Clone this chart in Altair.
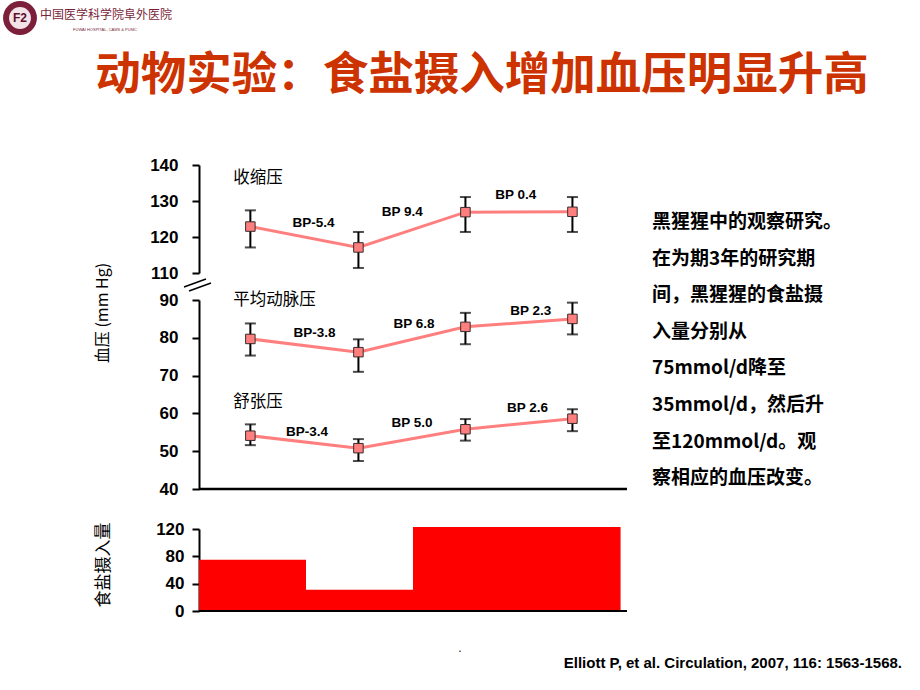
import altair as alt
import pandas as pd

# ---------------- data ----------------
phase_x = [0.48, 1.49, 2.49, 3.49]

sys_mean = [122.9, 117.1, 126.9, 127.0]
sys_hi = [127.4, 121.4, 131.1, 131.1]
sys_lo = [117.1, 111.4, 121.4, 121.4]

map_mean = [79.7, 76.2, 82.9, 85.0]
map_hi = [83.8, 79.6, 86.6, 89.3]
map_lo = [75.3, 71.0, 78.3, 80.9]

dia_mean = [54.1, 50.8, 55.8, 58.6]
dia_hi = [57.1, 53.2, 58.5, 61.1]
dia_lo = [51.6, 47.4, 52.8, 55.3]

sys_labels = ["BP-5.4", "BP 9.4", "BP 0.4"]
sys_lab_x = [1.07, 1.90, 2.96]
sys_lab_y = [123.9, 126.9, 131.7]

map_labels = ["BP-3.8", "BP 6.8", "BP 2.3"]
map_lab_x = [1.08, 2.01, 3.10]
map_lab_y = [81.3, 83.7, 87.1]

dia_labels = ["BP-3.4", "BP 5.0", "BP 2.6"]
dia_lab_x = [1.01, 1.99, 3.07]
dia_lab_y = [55.1, 57.5, 61.4]

series_names = ["收缩压", "平均动脉压", "舒张压"]
series_name_x = [0.32, 0.32, 0.32]
series_name_y = [136.4, 90.0, 63.0]

salt_start = [0, 1, 2]
salt_end = [1, 2, 3.94]
salt_val = [75, 31, 123]

ticks_sys = [110, 120, 130, 140]
ticks_low = [40, 50, 60, 70, 80, 90]
ticks_salt = [0, 40, 80, 120]

title_text = "动物实验：食盐摄入增加血压明显升高"
note_lines = ["黑猩猩中的观察研究。", "在为期3年的研究期", "间，黑猩猩的食盐摄", "入量分别从",
              "75mmol/d降至", "35mmol/d，然后升", "至120mmol/d。观", "察相应的血压改变。"]
citation = "Elliott P, et al. Circulation, 2007, 116: 1563-1568."

# ---------------- scales ----------------
CJK = "Noto Sans CJK SC"
LAT = "Liberation Sans"
LINE_C = "#FF7F7F"

XS = alt.Scale(domain=[0, 4], range=[199, 627], nice=False, zero=False)
SA = alt.Scale(domain=[110, 140], range=[273, 165], nice=False, zero=False)
SB = alt.Scale(domain=[40, 90], range=[489, 300], nice=False, zero=False)
SC = alt.Scale(domain=[0, 120], range=[611, 529], nice=False, zero=False)


def yaxis(values, pad):
    return alt.Axis(orient="left", offset=-199, values=values, title=None, grid=False,
                    domainColor="black", domainWidth=2, tickColor="black", tickWidth=2,
                    tickSize=7, labelFont=LAT, labelFontWeight="bold", labelFontSize=17,
                    labelColor="black", labelPadding=pad)


def series_layers(mean, hi, lo, scale, axis):
    df = pd.DataFrame({"x": phase_x, "m": mean, "hi": hi, "lo": lo})
    base = alt.Chart(df)
    X = alt.X("x:Q", scale=XS, axis=None)
    line = base.mark_line(color=LINE_C, strokeWidth=3).encode(
        x=X, y=alt.Y("m:Q", scale=scale, axis=axis))
    err = base.mark_rule(color="black", strokeWidth=2).encode(
        x=X, y=alt.Y("lo:Q", scale=scale, axis=axis), y2="hi:Q")
    cap_hi = base.mark_tick(color="black", orient="horizontal", size=11, thickness=2).encode(
        x=X, y=alt.Y("hi:Q", scale=scale, axis=axis))
    cap_lo = base.mark_tick(color="black", orient="horizontal", size=11, thickness=2).encode(
        x=X, y=alt.Y("lo:Q", scale=scale, axis=axis))
    pts = base.mark_square(size=90, color=LINE_C, stroke="#3a2a2a", strokeWidth=1,
                           opacity=1).encode(x=X, y=alt.Y("m:Q", scale=scale, axis=axis))
    return [line, err, cap_hi, cap_lo, pts]


def label_layer(texts, xs, ys, scale, axis):
    df = pd.DataFrame({"t": texts, "x": xs, "y": ys})
    return alt.Chart(df).mark_text(font=LAT, fontWeight="bold", fontSize=13.5, color="black").encode(
        x=alt.X("x:Q", scale=XS, axis=None), y=alt.Y("y:Q", scale=scale, axis=axis), text="t:N")


def name_layer(i, scale, axis):
    df = pd.DataFrame({"t": [series_names[i]], "x": [series_name_x[i]], "y": [series_name_y[i]]})
    return alt.Chart(df).mark_text(font=CJK, fontSize=16.5, color="black", align="left").encode(
        x=alt.X("x:Q", scale=XS, axis=None), y=alt.Y("y:Q", scale=scale, axis=axis), text="t:N")


axA = yaxis(ticks_sys, 14)
axB = yaxis(ticks_low, 14)
axC = yaxis(ticks_salt, 8)

groupA = alt.layer(*series_layers(sys_mean, sys_hi, sys_lo, SA, axA),
                   label_layer(sys_labels, sys_lab_x, sys_lab_y, SA, axA),
                   name_layer(0, SA, axA))

base_df = pd.DataFrame({"x0": [0], "x1": [4], "yb": [40]})
baseB = alt.Chart(base_df).mark_rule(color="black", strokeWidth=2.5).encode(
    x=alt.X("x0:Q", scale=XS, axis=None), x2="x1:Q", y=alt.Y("yb:Q", scale=SB, axis=axB))

groupB = alt.layer(*series_layers(map_mean, map_hi, map_lo, SB, axB),
                   *series_layers(dia_mean, dia_hi, dia_lo, SB, axB),
                   label_layer(map_labels, map_lab_x, map_lab_y, SB, axB),
                   label_layer(dia_labels, dia_lab_x, dia_lab_y, SB, axB),
                   name_layer(1, SB, axB), name_layer(2, SB, axB), baseB)

salt_df = pd.DataFrame({"s": salt_start, "e": salt_end, "v": salt_val})
bars = alt.Chart(salt_df).mark_rect(color="#FF0000").encode(
    x=alt.X("s:Q", scale=XS, axis=None), x2="e:Q",
    y=alt.Y("v:Q", scale=SC, axis=axC), y2=alt.datum(0))
baseC_df = pd.DataFrame({"x0": [0], "x1": [4], "yb": [0]})
baseC = alt.Chart(baseC_df).mark_rule(color="black", strokeWidth=2).encode(
    x=alt.X("x0:Q", scale=XS, axis=None), x2="x1:Q", y=alt.Y("yb:Q", scale=SC, axis=axC))
groupC = alt.layer(bars, baseC)

# ---------------- annotations ----------------
one = pd.DataFrame({"k": [0]})


def txt(text, x, y, **kw):
    return alt.Chart(one).mark_text(text=text, **kw).encode(x=alt.value(x), y=alt.value(y))


title = txt(title_text, 482, 76, font=CJK, fontWeight="bold", fontSize=45.5, color="#CC3300")
ytitle = txt("血压 (mm Hg)", 103, 313, font=CJK, fontSize=16, angle=270, color="black")
ctitle = txt("食盐摄入量", 104, 565, font=CJK, fontSize=17, angle=270, color="black")
note = alt.Chart(one).mark_text(text="\n".join(note_lines), lineBreak="\n", lineHeight=36.6,
                                font=CJK, fontWeight="bold", fontSize=19, color="black",
                                align="left", baseline="middle").encode(
    x=alt.value(652), y=alt.value(222))
cite = txt(citation, 902, 663, font=LAT, fontWeight="bold", fontSize=15, color="black",
           align="right")
dot = txt(".", 460, 648, font=LAT, fontSize=12, color="black")

brk1 = alt.Chart(one).mark_rule(color="black", strokeWidth=1.5).encode(
    x=alt.value(184), x2=alt.value(206), y=alt.value(287), y2=alt.value(279))
brk2 = alt.Chart(one).mark_rule(color="black", strokeWidth=1.5).encode(
    x=alt.value(189), x2=alt.value(211), y=alt.value(291), y2=alt.value(283))

logo_ring = alt.Chart(one).mark_point(shape="circle", size=1150, filled=True, color="#7B1F3A",
                                      opacity=1).encode(x=alt.value(20), y=alt.value(18))
logo_in = alt.Chart(one).mark_point(shape="circle", size=480, filled=True, color="#F3E3E8",
                                    opacity=1).encode(x=alt.value(20), y=alt.value(18))
logo_f2 = txt("F2", 20, 18, font=LAT, fontWeight="bold", fontSize=12, color="#5A1028")
logo_name = txt("中国医学科学院阜外医院", 106, 15, font=CJK, fontSize=12, color="#7B1F3A")
logo_en = txt("FUWAI HOSPITAL, CAMS & PUMC", 105, 30, font=LAT, fontSize=4, color="#7B1F3A")

chart = alt.layer(
    groupA, groupB, groupC,
    title, ytitle, ctitle, note, cite, dot, brk1, brk2,
    logo_ring, logo_in, logo_f2, logo_name, logo_en,
).resolve_scale(y="independent").properties(
    width=920, height=690, autosize=alt.AutoSizeParams(type="none"), padding=0,
    background="white",
).configure_view(stroke=None)

chart.save("out.html", embed_options={"renderer": "svg", "actions": False})
